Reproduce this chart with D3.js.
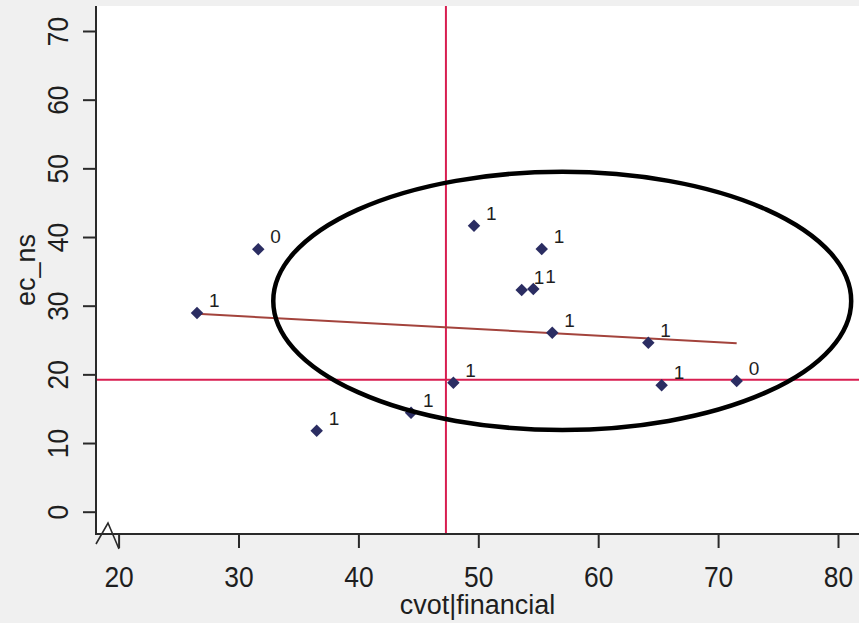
<!DOCTYPE html>
<html>
<head>
<meta charset="utf-8">
<script src="https://cdn.jsdelivr.net/npm/d3@7/dist/d3.min.js"></script>
<style>
  html, body { margin: 0; padding: 0; background: #f0f0f0; }
  svg { display: block; }
  text { font-family: "Liberation Sans", Arial, sans-serif; fill: #1e1e1e; }
</style>
</head>
<body>
<svg id="chart" width="859" height="623"></svg>
<script>
// Observations: cvot|financial (x) against ec_ns (y), each with a 0/1 marker label
const xValues = [26.54, 31.65, 36.52, 44.39, 47.92, 49.64, 55.29, 53.62, 54.59, 56.17, 64.18, 65.29, 71.55];
const yValues = [28.94, 38.22, 11.80, 14.42, 18.79, 41.65, 38.26, 32.29, 32.43, 26.07, 24.61, 18.41, 19.04];
const pointLabels = ["1", "0", "1", "1", "1", "1", "1", "1", "1", "1", "1", "1", "0"];

const xTicks = [20, 30, 40, 50, 60, 70, 80];
const yTicks = [0, 10, 20, 30, 40, 50, 60, 70];

// Reference lines
const refX = 47.3;
const refY = 19.2;

// Highlight ellipse (centre and radii in data units)
const ellipseCenter = [57.0, 30.7];
const ellipseRadii = [24.1, 18.8];

const xTitle = "cvot|financial";
const yTitle = "ec_ns";

const plot = { left: 96, top: 6, right: 859, bottom: 534 };

const svg = d3.select("#chart");

const x = d3.scaleLinear().domain([20, 80]).range([118.6, 838]);
const y = d3.scaleLinear().domain([0, 70]).range([511.7, 31]);

// plot background
svg.append("rect")
  .attr("x", plot.left).attr("y", plot.top)
  .attr("width", plot.right - plot.left).attr("height", plot.bottom - plot.top)
  .attr("fill", "#ffffff");

const axisColor = "#2a2a2a";

// x axis ticks and labels (slightly condensed digits)
const xAxis = d3.axisBottom(x).tickValues(xTicks).tickSize(14).tickPadding(0).tickFormat(d3.format("d"));
const gx = svg.append("g").attr("transform", `translate(0,${plot.bottom})`).call(xAxis);
gx.select(".domain").remove();
gx.selectAll(".tick line").attr("stroke", axisColor).attr("stroke-width", 2);
gx.selectAll(".tick text")
  .attr("y", null).attr("dy", null)
  .attr("transform", "translate(0,53) scale(0.88,1)")
  .style("font-size", "30px")
  .attr("fill", "#1e1e1e");

// y axis ticks and rotated labels
const yAxis = d3.axisLeft(y).tickValues(yTicks).tickSize(13).tickFormat(d3.format("d"));
const gy = svg.append("g").attr("transform", `translate(${plot.left},0)`).call(yAxis);
gy.select(".domain").remove();
gy.selectAll(".tick line").attr("stroke", axisColor).attr("stroke-width", 2);
gy.selectAll(".tick text")
  .attr("x", null).attr("dy", null)
  .attr("text-anchor", "middle")
  .attr("transform", "translate(-28,0) rotate(-90) scale(0.88,1)")
  .style("font-size", "30px")
  .attr("fill", "#1e1e1e");

// axis lines
svg.append("line")
  .attr("x1", plot.left).attr("x2", plot.left)
  .attr("y1", plot.top).attr("y2", plot.bottom + 1)
  .attr("stroke", axisColor).attr("stroke-width", 2);
svg.append("line")
  .attr("x1", plot.left).attr("x2", plot.right)
  .attr("y1", plot.bottom).attr("y2", plot.bottom)
  .attr("stroke", axisColor).attr("stroke-width", 2);

// axis break mark at the origin corner
const bx = plot.left, by = plot.bottom;
svg.append("polyline")
  .attr("points", [[bx, by + 10], [bx + 12, by - 11], [bx + 23, by + 15]].map(p => p.join(",")).join(" "))
  .attr("fill", "none").attr("stroke", axisColor).attr("stroke-width", 1.6);

// axis titles
svg.append("text")
  .attr("x", (plot.left + plot.right) / 2).attr("y", 614)
  .attr("text-anchor", "middle")
  .style("font-size", "27px")
  .text(xTitle);
svg.append("text")
  .attr("transform", `translate(35,${(plot.top + plot.bottom) / 2}) rotate(-90)`)
  .attr("text-anchor", "middle")
  .style("font-size", "27px")
  .text(yTitle);

svg.append("clipPath").attr("id", "plotclip")
  .append("rect")
  .attr("x", plot.left + 1).attr("y", plot.top)
  .attr("width", plot.right - plot.left).attr("height", plot.bottom - plot.top - 1);

const inner = svg.append("g").attr("clip-path", "url(#plotclip)");

// reference lines
const refColor = "#d81e50";
inner.append("line")
  .attr("x1", x(refX)).attr("x2", x(refX))
  .attr("y1", plot.top).attr("y2", plot.bottom)
  .attr("stroke", refColor).attr("stroke-width", 2);
inner.append("line")
  .attr("x1", plot.left).attr("x2", plot.right)
  .attr("y1", y(refY)).attr("y2", y(refY))
  .attr("stroke", refColor).attr("stroke-width", 2);

// least-squares fit line across the observed x range
const n = xValues.length;
const mx = d3.mean(xValues), my = d3.mean(yValues);
let sxy = 0, sxx = 0;
for (let i = 0; i < n; i++) {
  sxy += (xValues[i] - mx) * (yValues[i] - my);
  sxx += (xValues[i] - mx) ** 2;
}
const slope = sxy / sxx;
const intercept = my - slope * mx;
const [xmin, xmax] = d3.extent(xValues);
inner.append("line")
  .attr("x1", x(xmin)).attr("y1", y(intercept + slope * xmin))
  .attr("x2", x(xmax)).attr("y2", y(intercept + slope * xmax))
  .attr("stroke", "#a3433c").attr("stroke-width", 2);

// points
const pts = xValues.map((v, i) => ({ x: v, y: yValues[i], label: pointLabels[i] }));
const diamond = d3.symbol().type(d3.symbolSquare).size(78);
inner.selectAll("path.pt")
  .data(pts).enter().append("path")
  .attr("class", "pt")
  .attr("d", diamond)
  .attr("transform", d => `translate(${x(d.x)},${y(d.y)}) rotate(45)`)
  .attr("fill", "#2b2d62");

inner.selectAll("text.lbl")
  .data(pts).enter().append("text")
  .attr("class", "lbl")
  .attr("x", d => x(d.x) + 12)
  .attr("y", d => y(d.y) - 6)
  .style("font-size", "19px")
  .attr("fill", "#3d3f7a")
  .text(d => d.label);

// highlight ellipse
inner.append("ellipse")
  .attr("cx", x(ellipseCenter[0])).attr("cy", y(ellipseCenter[1]))
  .attr("rx", x(ellipseCenter[0] + ellipseRadii[0]) - x(ellipseCenter[0]))
  .attr("ry", y(ellipseCenter[1]) - y(ellipseCenter[1] + ellipseRadii[1]))
  .attr("fill", "none").attr("stroke", "#000").attr("stroke-width", 4.5);
</script>
</body>
</html>
